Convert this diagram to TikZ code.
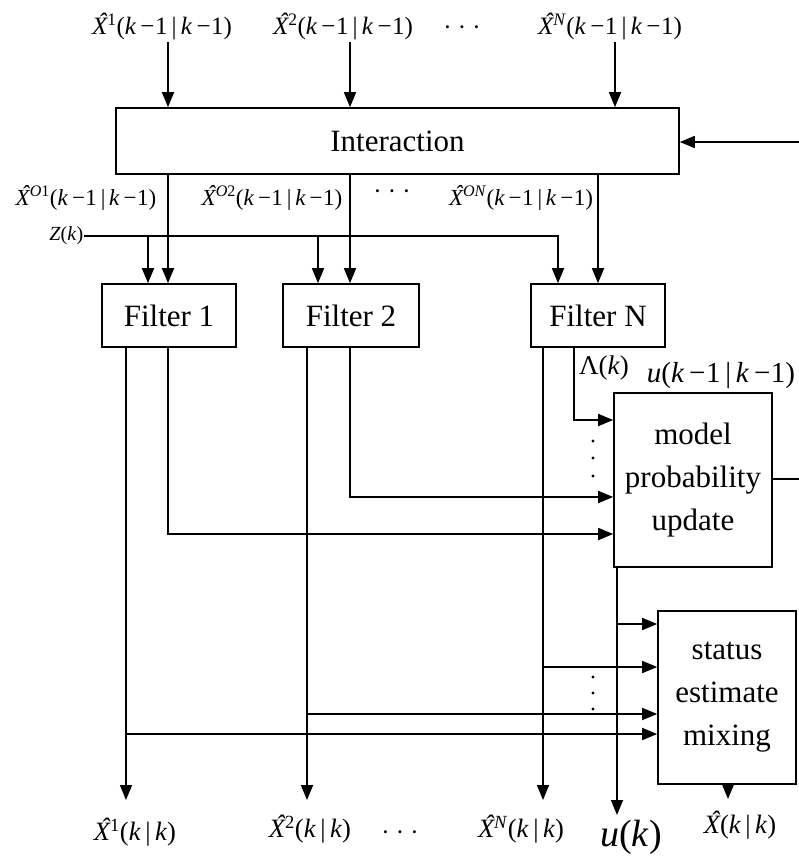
\documentclass[tikz,border=0pt]{standalone}
\usepackage{fontspec}
\setmainfont{Liberation Serif}
\usetikzlibrary{arrows.meta}
\newcommand{\Xh}{\textit{\ooalign{X\cr\hidewidth\kern0.22em\raisebox{0.16em}{ˆ}\hidewidth\cr}}}
\newcommand{\ki}{\textit{k}}
\newcommand{\mn}{\,−\kern0.5pt}
\newcommand{\kmk}{(\ki\mn1\,|\,\ki\mn1)}
\newcommand{\kk}{(\ki\,|\,\ki)}
\begin{document}
\begin{tikzpicture}[x=1pt,y=-1pt,line width=1.6pt,
  arr/.style={-{Triangle[length=15pt,width=12pt]}},
  box/.style={draw,inner sep=0pt,align=center,font=\fontsize{31}{43}\selectfont},
  lbl/.style={inner sep=0pt,font=\fontsize{25}{28}\selectfont},
  blbl/.style={inner sep=0pt,font=\fontsize{26.5}{30}\selectfont},
  slbl/.style={inner sep=0pt,font=\fontsize{23}{26}\selectfont},
  vdot/.style={circle,fill,inner sep=0pt,minimum size=3.2pt}]
\useasboundingbox (0,0) rectangle (799,859);
% boxes
\node[box,minimum width=563pt,minimum height=66pt] (inter) at (397.5,141) {Interaction};
\node[box,minimum width=134pt,minimum height=63pt] (f1) at (169,315.5) {Filter 1};
\node[box,minimum width=136pt,minimum height=63pt] (f2) at (351,315.5) {Filter 2};
\node[box,minimum width=134pt,minimum height=63pt] (fN) at (598,315.5) {Filter N};
\node[box,minimum width=158pt,minimum height=174pt] (mpu) at (693,480) {model\\probability\\update};
\node[box,minimum width=138pt,minimum height=173pt] (sem) at (727,697.5) {status\\estimate\\mixing};
% top labels
\node[lbl] (t1) at (162,27) {\Xh\textsuperscript{1}\kmk};
\node[lbl] (t2) at (343,27) {\Xh\textsuperscript{2}\kmk};
\node[lbl] (td) at (462,31) {· · ·};
\node[lbl] (tN) at (610,27) {\Xh\textsuperscript{\textit{N}}\kmk};
% middle labels
\node[slbl] (m1) at (86,198) {\Xh\textsuperscript{\textit{O}1}\kmk};
\node[slbl] (m2) at (272,198) {\Xh\textsuperscript{\textit{O}2}\kmk};
\node[lbl] (md) at (392,195) {· · ·};
\node[slbl] (mN) at (521,198) {\Xh\textsuperscript{\textit{ON}}\kmk};
\node[inner sep=0pt,anchor=east,font=\fontsize{20}{22}\selectfont] (zk) at (84,236) {\textit{Z}(\ki)};
\node[inner sep=0pt,font=\fontsize{27}{30}\selectfont] (lam) at (604,368) {Λ(\ki)};
\node[inner sep=0pt,font=\fontsize{29}{32}\selectfont] (uprev) at (721,376) {\textit{u}\kmk};
% bottom labels
\node[blbl] (b1) at (135,833) {\Xh\textsuperscript{1}\kk};
\node[blbl] (b2) at (310,830) {\Xh\textsuperscript{2}\kk};
\node[lbl] (bd) at (400,836) {· · ·};
\node[blbl] (bN) at (521,830) {\Xh\textsuperscript{\textit{N}}\kk};
\node[inner sep=0pt,font=\fontsize{38}{42}\selectfont] (uk) at (631,837) {\textit{u}(\ki)};
\node[blbl] (xk) at (740,827) {\Xh\kk};
% vertical dots
\node[vdot] (va1) at (593,441) {};
\node[vdot] (va2) at (593,458) {};
\node[vdot] (va3) at (593,476) {};
\node[vdot] (vb1) at (593,677) {};
\node[vdot] (vb2) at (593,693) {};
\node[vdot] (vb3) at (593,709) {};
% column coordinates
\coordinate (ca) at (126,0);
\coordinate (cb) at (168,0);
\coordinate (cc) at (307,0);
\coordinate (cd) at (350,0);
\coordinate (ce) at (543,0);
\coordinate (cf) at (574,0);
\coordinate (cg) at (598,0);
\coordinate (cu) at (617,0);
\coordinate (cz1) at (148,0);
\coordinate (cz2) at (318,0);
\coordinate (czN) at (558,0);
\coordinate (cs) at (728,0);
% top inputs
\coordinate (in1) at (168,42);
\coordinate (in2) at (350,42);
\coordinate (inN) at (615,42);
\draw[arr] (in1) -- (in1 |- inter.north);
\draw[arr] (in2) -- (in2 |- inter.north);
\draw[arr] (inN) -- (inN |- inter.north);
\coordinate (fbin) at (799,142);
\draw[arr] (fbin) -- (fbin -| inter.east);
% interaction to filters
\draw[arr] (inter.south -| cb) -- (f1.north -| cb);
\draw[arr] (inter.south -| cd) -- (f2.north -| cd);
\draw[arr] (inter.south -| cg) -- (fN.north -| cg);
% Z(k)
\coordinate (zc) at (czN |- zk.east);
\draw[arr] (zk.east) -- (zc) -- (zc |- fN.north);
\draw[arr] (zk.east -| cz1) -- (f1.north -| cz1);
\draw[arr] (zk.east -| cz2) -- (f2.north -| cz2);
% filter outputs to model probability update
\coordinate (p1) at (574,420);
\coordinate (p2) at (350,497);
\coordinate (p3) at (168,534);
\draw[arr] (fN.south -| cf) -- (p1) -- (p1 -| mpu.west);
\draw[arr] (f2.south -| cd) -- (p2) -- (p2 -| mpu.west);
\draw[arr] (f1.south -| cb) -- (p3) -- (p3 -| mpu.west);
\coordinate (fbout) at (799,479);
\draw (fbout -| mpu.east) -- (fbout);
% outputs downward
\coordinate (e1) at (126,800);
\coordinate (e2) at (307,800);
\coordinate (eN) at (543,800);
\coordinate (eu) at (617,815);
\draw[arr] (f1.south -| ca) -- (e1);
\draw[arr] (f2.south -| cc) -- (e2);
\draw[arr] (fN.south -| ce) -- (eN);
\draw[arr] (mpu.south -| cu) -- (eu);
\coordinate (es) at (728,799);
\draw[arr] (sem.south -| cs) -- (es);
% into status estimate mixing
\coordinate (s1) at (617,624);
\coordinate (s2) at (543,667);
\coordinate (s3) at (307,714);
\coordinate (s4) at (126,734);
\draw[arr] (s1) -- (s1 -| sem.west);
\draw[arr] (s2) -- (s2 -| sem.west);
\draw[arr] (s3) -- (s3 -| sem.west);
\draw[arr] (s4) -- (s4 -| sem.west);
\end{tikzpicture}
\end{document}
